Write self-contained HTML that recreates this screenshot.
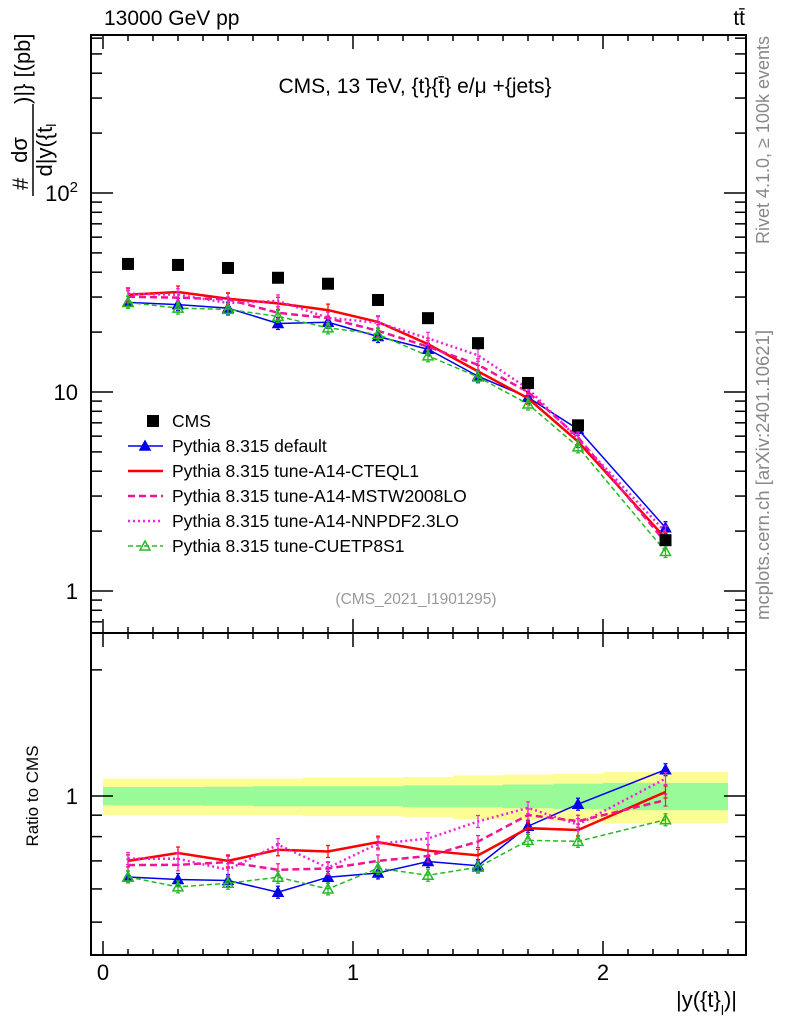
<!DOCTYPE html>
<html><head><meta charset="utf-8"><style>
html,body{margin:0;padding:0;background:#fff;}
svg{display:block;font-family:"Liberation Sans",sans-serif;}
</style></head><body>
<svg id="c" width="786" height="1024" viewBox="0 0 786 1024"></svg>
<script>
const xCenters=[0.1,0.3,0.5,0.7,0.9,1.1,1.3,1.5,1.7,1.9,2.25];
const binLo=[0,0.2,0.4,0.6,0.8,1.0,1.2,1.4,1.6,1.8,2.0];
const binHi=[0.2,0.4,0.6,0.8,1.0,1.2,1.4,1.6,1.8,2.0,2.5];
const cmsData=[44,43.5,42,37.5,35,29,23.5,17.6,11.1,6.8,1.8];
const bandInner=[0.05,0.05,0.052,0.055,0.055,0.055,0.06,0.06,0.065,0.07,0.075];
const bandOuter=[0.10,0.10,0.10,0.10,0.105,0.105,0.11,0.12,0.125,0.13,0.14];
const pyDefault=[28.2,27.5,26.4,22.1,22.4,19.0,16.4,12.0,9.4,6.5,2.08];
const pyCTEQ=[30.8,31.8,29.4,27.9,25.8,22.5,17.4,12.7,9.3,5.64,1.84];
const pyMSTW=[30.1,29.8,29.2,25.0,23.5,20.3,16.9,13.7,10.0,5.92,1.76];
const pyNNPDF=[31.2,30.8,28.0,28.7,23.6,22.3,18.6,15.3,10.4,5.81,1.98];
const pyCUETP=[28.2,26.4,26.0,24.0,21.0,19.5,15.2,11.9,8.7,5.3,1.58];
const xTickLabels=["0","1","2"];

const NS="http://www.w3.org/2000/svg";
const svg=document.getElementById('c');
function mk(tag,attrs,parent){const e=document.createElementNS(NS,tag);for(const k in attrs)e.setAttribute(k,attrs[k]);(parent||svg).appendChild(e);return e;}
const L=91,R=746,T=35,MB=633,RB=955;
const X=v=>103+250*v;
const YM=v=>392-199*Math.log10(v/10);
const YR=v=>796-419*Math.log10(v);

const gb=mk('g',{});


for(let i=0;i<xCenters.length;i++){
  const r1=mk('rect',{x:X(binLo[i]),width:X(binHi[i])-X(binLo[i]),y:YR(1+bandOuter[i]),height:YR(1-bandOuter[i])-YR(1+bandOuter[i]),fill:'#fdfd96'},gb);
  
  
  const r2=mk('rect',{x:X(binLo[i]),width:X(binHi[i])-X(binLo[i]),y:YR(1+bandInner[i]),height:YR(1-bandInner[i])-YR(1+bandInner[i]),fill:'#98fb98'},gb);
  
  
}

const f1=mk('rect',{x:L,y:T,width:R-L,height:MB-T,fill:'none',stroke:'#000','stroke-width':2});


const f2=mk('rect',{x:L,y:MB,width:R-L,height:RB-MB,fill:'none',stroke:'#000','stroke-width':2});



for(let k=0;k<=25;k++){
  const v=k/10, x=X(v), maj=(k%10===0), len=maj?14:6;
  mk('line',{x1:x,x2:x,y1:T,y2:T+len,stroke:'#000','stroke-width':1.5});
  mk('line',{x1:x,x2:x,y1:MB,y2:MB-len,stroke:'#000','stroke-width':1.5});
  mk('line',{x1:x,x2:x,y1:MB,y2:MB+len,stroke:'#000','stroke-width':1.5});
  mk('line',{x1:x,x2:x,y1:RB,y2:RB-len,stroke:'#000','stroke-width':1.5});
}
xTickLabels.forEach((t,i)=>{const e=mk('text',{x:X(i),y:980,'font-size':22,'text-anchor':'middle'});e.textContent=t;

});

for(let d=-1;d<=2;d++){for(let m=1;m<=9;m++){const v=m*Math.pow(10,d),y=YM(v);if(y<T||y>MB)continue;const len=m===1?22:11;
mk('line',{x1:L,x2:L+len,y1:y,y2:y,stroke:'#000','stroke-width':1.5});
mk('line',{x1:R,x2:R-len,y1:y,y2:y,stroke:'#000','stroke-width':1.5});}}
[[1,'1'],[10,'10']].forEach(([v,t])=>{const e=mk('text',{x:78,y:YM(v)+8,'font-size':22,'text-anchor':'end'});e.textContent=t;

});
{const e=mk('text',{x:78,y:YM(100)+8,'font-size':22,'text-anchor':'end'});e.innerHTML='10<tspan dy="-9" font-size="15">2</tspan>';

}

[0.5,0.6,0.7,0.8,0.9,1,2].forEach(v=>{const y=YR(v);if(y<T||y>RB)return;const len=v===1?22:11;
mk('line',{x1:L,x2:L+len,y1:y,y2:y,stroke:'#000','stroke-width':1.5});
mk('line',{x1:R,x2:R-len,y1:y,y2:y,stroke:'#000','stroke-width':1.5});});
{const e=mk('text',{x:78,y:YR(1)+8,'font-size':22,'text-anchor':'end'});e.textContent='1';

}

const series=[
 {name:'pythia-default',v:pyDefault,c:'#0000ee',w:1.5,dash:'',mk:'tri-fill'},
 {name:'pythia-a14-cteql1',v:pyCTEQ,c:'#ff0000',w:2.5,dash:'',mk:'none'},
 {name:'pythia-a14-mstw2008lo',v:pyMSTW,c:'#ee1493',w:2.5,dash:'7,4',mk:'none'},
 {name:'pythia-a14-nnpdf23lo',v:pyNNPDF,c:'#ee22dd',w:2.5,dash:'2,3',mk:'none'},
 {name:'pythia-cuetp8s1',v:pyCUETP,c:'#22bb22',w:1.5,dash:'5,3',mk:'tri-open'}
];
function tri(x,y,c,open,g){return mk('path',{d:`M${x},${y-5}L${x+5},${y+4}L${x-5},${y+4}Z`,fill:open?'none':c,stroke:c,'stroke-width':1.5},g);}
series.forEach(s=>{
 ['main','ratio'].forEach(p=>{
  const g=mk('g',{});
  
  
  const Y=p==='main'?(i=>YM(s.v[i])):(i=>YR(s.v[i]/cmsData[i]));
  const pts=xCenters.map((x,i)=>X(x)+','+Y(i)).join(' ');
  mk('polyline',{points:pts,fill:'none',stroke:s.c,'stroke-width':s.w,'stroke-dasharray':s.dash},g);
  xCenters.forEach((x,i)=>{
    const y=Y(i);
    mk('line',{x1:X(x),x2:X(x),y1:y-6,y2:y+6,stroke:s.c,'stroke-width':1.2},g);
    mk('line',{x1:X(x)-2,x2:X(x)+2,y1:y-6,y2:y-6,stroke:s.c,'stroke-width':1.2},g);
    mk('line',{x1:X(x)-2,x2:X(x)+2,y1:y+6,y2:y+6,stroke:s.c,'stroke-width':1.2},g);
    if(s.mk!=='none') tri(X(x),y,s.c,s.mk==='tri-open',g);
  });
 });
});
{const g=mk('g',{});


xCenters.forEach((x,i)=>{const r=mk('rect',{x:X(x)-6,y:YM(cmsData[i])-6,width:12,height:12,fill:'#000'},g);

});}

const leg=[['CMS','sq','#000',0,''],['Pythia 8.315 default','tri-fill','#0000ee',1.5,''],['Pythia 8.315 tune-A14-CTEQL1','line','#ff0000',2.5,''],
['Pythia 8.315 tune-A14-MSTW2008LO','line','#ee1493',2.5,'7,4'],['Pythia 8.315 tune-A14-NNPDF2.3LO','line','#ee22dd',2.5,'2,3'],['Pythia 8.315 tune-CUETP8S1','tri-open','#22bb22',1.5,'5,3']];
leg.forEach((l,i)=>{const y=421+25*i;const g=mk('g',{});


if(l[1]==='sq')mk('rect',{x:147,y:y-6,width:12,height:12,fill:'#000'},g);
else{mk('line',{x1:128,x2:163,y1:y,y2:y,stroke:l[2],'stroke-width':l[3],'stroke-dasharray':l[4]},g);
if(l[1]!=='line')tri(145,y,l[2],l[1]==='tri-open',g);}
const t=mk('text',{x:172,y:y+6,'font-size':17.5},g);t.textContent=l[0];});

function txt(s,a,name){const e=mk('text',a);e.textContent=s;return e;}
txt('13000 GeV pp',{x:104,y:25,'font-size':21},'energy-label');
txt('tt̄',{x:745,y:25,'font-size':21,'text-anchor':'end'},'process-label');
txt('CMS, 13 TeV, {t}{t̄} e/μ +{jets}',{x:415,y:93,'font-size':21,'text-anchor':'middle'},'plot-title');
txt('(CMS_2021_I1901295)',{x:416,y:604,'font-size':15.5,'text-anchor':'middle',fill:'#999'},'analysis-id');
txt('Rivet 4.1.0, ≥ 100k events',{x:0,y:0,'font-size':18,'text-anchor':'end',fill:'#888',transform:'translate(769,36) rotate(-90)'},'rivet-label');
txt('mcplots.cern.ch [arXiv:2401.10621]',{x:0,y:0,'font-size':18.5,'text-anchor':'end',fill:'#888',transform:'translate(769,330) rotate(-90)'},'mcplots-label');
txt('Ratio to CMS',{x:0,y:0,'font-size':17,'text-anchor':'middle',transform:'translate(38,796) rotate(-90)'},'ratio-y-title');
txt('|y({t}',{x:676,y:1007,'font-size':22},'x-axis-title').innerHTML='|y({t}<tspan dy="8" font-size="14">l</tspan><tspan dy="-8">)|</tspan>';
{const g=mk('g',{});


const a=mk('text',{x:0,y:0,'font-size':22,transform:'translate(28,190) rotate(-90)'},g);a.textContent='#';
const b=mk('text',{x:0,y:0,'font-size':22,'text-anchor':'middle',transform:'translate(27,150) rotate(-90)'},g);b.textContent='dσ';
mk('line',{x1:33,x2:33,y1:104,y2:196,stroke:'#000','stroke-width':1.5},g);
const c=mk('text',{x:0,y:0,'font-size':22,'text-anchor':'middle',transform:'translate(52,150) rotate(-90)'},g);c.innerHTML='d|y({t<tspan dy="4" font-size="14">l</tspan>';
const d=mk('text',{x:0,y:0,'font-size':22,transform:'translate(30,104) rotate(-90)'},g);d.textContent=')|} [(pb]';}
</script>
</body></html>
